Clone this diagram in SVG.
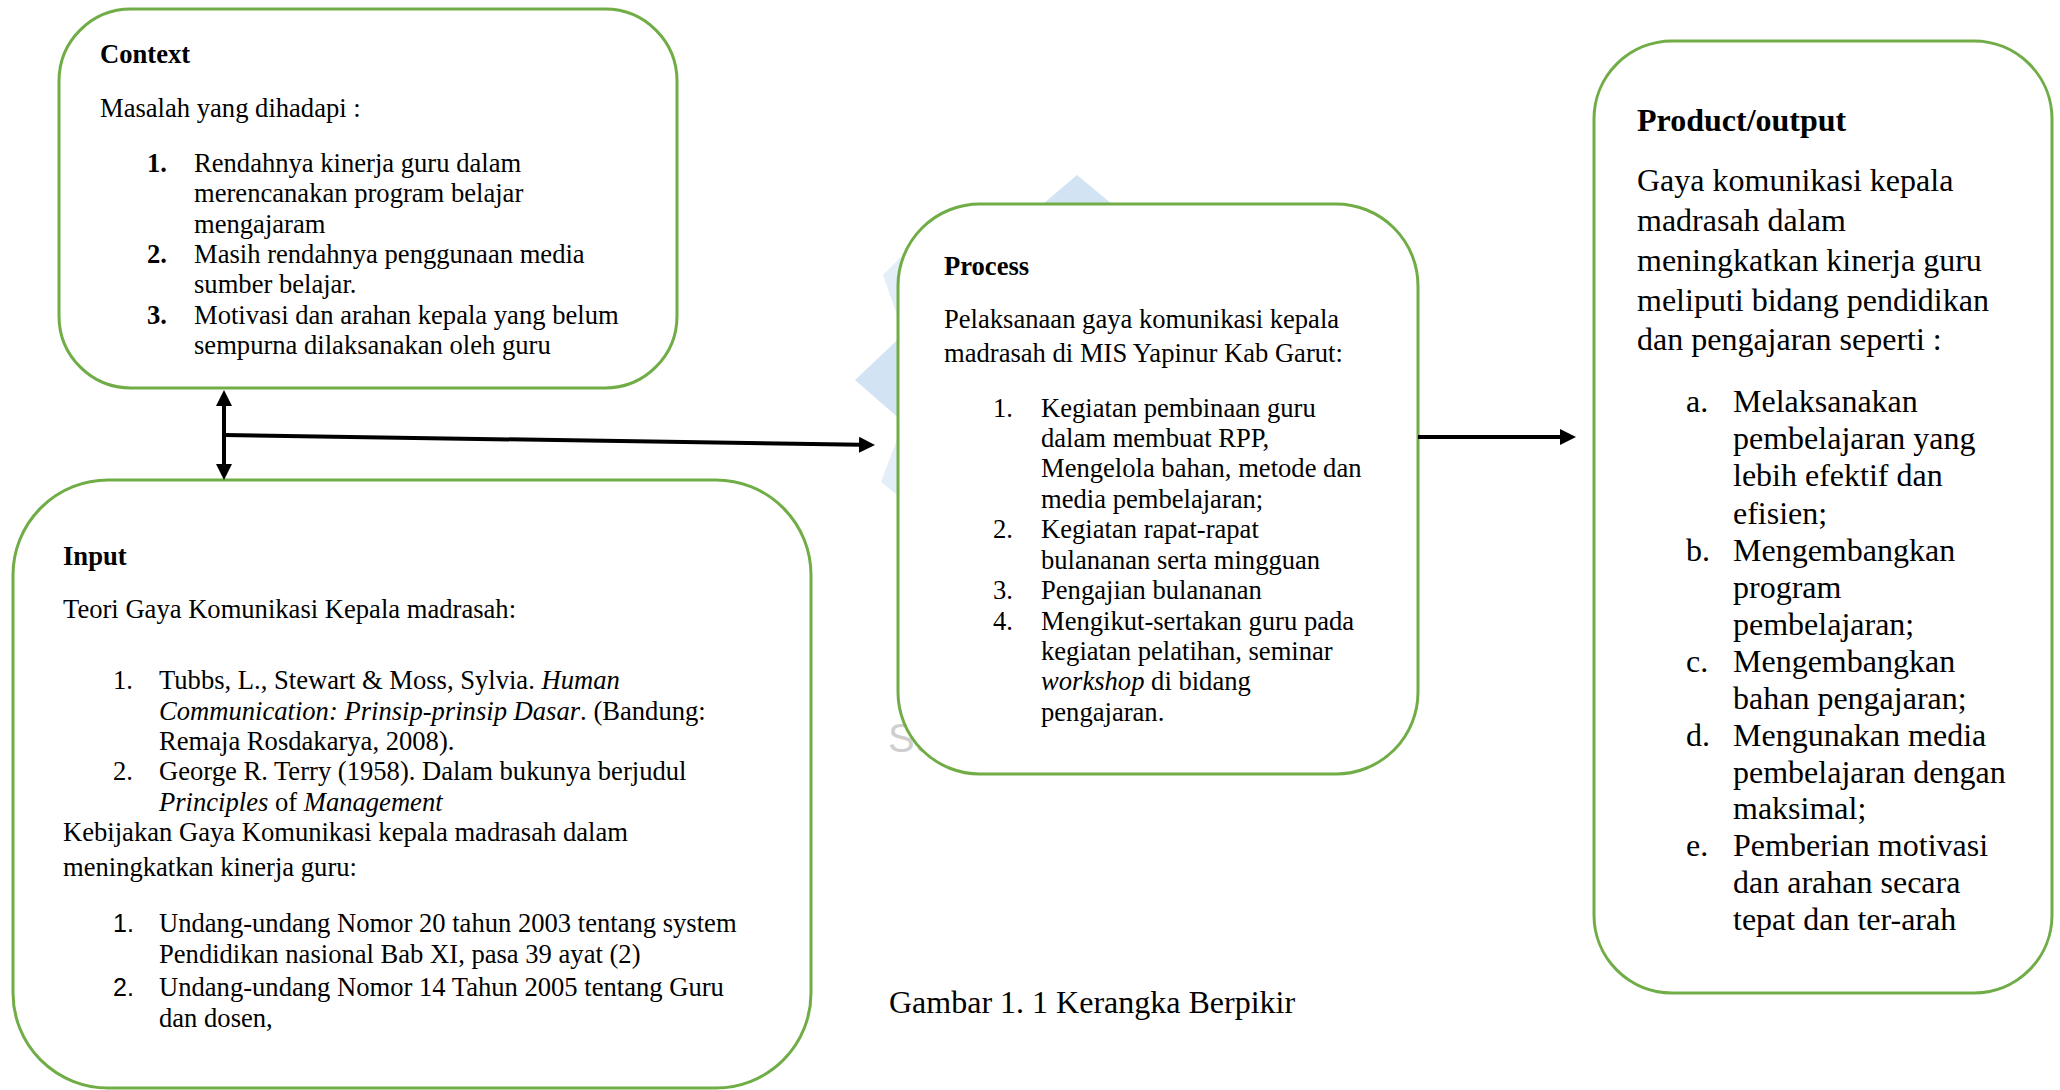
<svg xmlns="http://www.w3.org/2000/svg" width="2060" height="1090" viewBox="0 0 2060 1090">
<style>
.box{fill:#ffffff;stroke:#70ad47;stroke-width:3}
.t{font-family:"Liberation Serif","Times New Roman",serif;font-size:26.6px;fill:#000}
.b{font-weight:bold}
.i{font-style:italic}
.p{font-size:32px}
.n{font-family:"Liberation Sans",Arial,sans-serif;font-size:25px}
.conn{stroke:#000;stroke-width:4;fill:none}
.wm{fill:#d2e4f3}
.wm2{fill:#e3eef8}
</style>
<defs>
<marker id="ah" markerWidth="18" markerHeight="18" refX="2" refY="8" orient="auto-start-reverse" markerUnits="userSpaceOnUse">
<path d="M0,0 L16,8 L0,16 z" fill="#000"/>
</marker>
</defs>
<rect width="2060" height="1090" fill="#ffffff"/>

<g id="watermark">
<polygon class="wm" points="1077,175 1125,215 1030,215"/>
<polygon class="wm" points="855,380 910,328 910,428"/>
<polygon class="wm2" points="883,275 910,248 910,352"/>
<polygon class="wm2" points="881,482 910,405 910,505"/>
<text x="888" y="752" font-family="Liberation Sans,Arial,sans-serif" font-size="40" fill="#cfcfcf">Su</text>
</g>

<g id="context">
<rect class="box" x="59" y="9" width="618" height="379" rx="72" ry="72"/>
<text class="t b" x="100" y="63">Context</text>
<text class="t" x="100" y="117">Masalah yang dihadapi :</text>
<text class="t b" x="147" y="172">1.</text>
<text class="t" x="194" y="172">Rendahnya kinerja guru dalam</text>
<text class="t" x="194" y="202">merencanakan program belajar</text>
<text class="t" x="194" y="233">mengajaram</text>
<text class="t b" x="147" y="263">2.</text>
<text class="t" x="194" y="263">Masih rendahnya penggunaan media</text>
<text class="t" x="194" y="293">sumber belajar.</text>
<text class="t b" x="147" y="324">3.</text>
<text class="t" x="194" y="324">Motivasi dan arahan kepala yang belum</text>
<text class="t" x="194" y="354">sempurna dilaksanakan oleh guru</text>
</g>

<g id="input">
<rect class="box" x="13" y="480" width="798" height="608" rx="95" ry="95"/>
<text class="t b" x="63" y="565">Input</text>
<text class="t" x="63" y="618">Teori Gaya Komunikasi Kepala madrasah:</text>
<text class="t" x="113" y="689">1.</text>
<text class="t" x="159" y="689">Tubbs, L., Stewart &amp; Moss, Sylvia. <tspan class="i">Human</tspan></text>
<text class="t" x="159" y="720"><tspan class="i">Communication: Prinsip-prinsip Dasar</tspan>. (Bandung:</text>
<text class="t" x="159" y="750">Remaja Rosdakarya, 2008).</text>
<text class="t" x="113" y="780">2.</text>
<text class="t" x="159" y="780">George R. Terry (1958). Dalam bukunya berjudul</text>
<text class="t" x="159" y="811"><tspan class="i">Principles</tspan> of <tspan class="i">Management</tspan></text>
<text class="t" x="63" y="841">Kebijakan Gaya Komunikasi kepala madrasah dalam</text>
<text class="t" x="63" y="876">meningkatkan kinerja guru:</text>
<text class="n" x="113" y="932">1.</text>
<text class="t" x="159" y="932">Undang-undang Nomor 20 tahun 2003 tentang system</text>
<text class="t" x="159" y="963">Pendidikan nasional Bab XI, pasa 39 ayat (2)</text>
<text class="n" x="113" y="996">2.</text>
<text class="t" x="159" y="996">Undang-undang Nomor 14 Tahun 2005 tentang Guru</text>
<text class="t" x="159" y="1027">dan dosen,</text>
</g>

<g id="process">
<rect class="box" x="898" y="204" width="520" height="570" rx="82" ry="82"/>
<text class="t b" x="944" y="275">Process</text>
<text class="t" x="944" y="328">Pelaksanaan gaya komunikasi kepala</text>
<text class="t" x="944" y="362">madrasah di MIS Yapinur Kab Garut:</text>
<text class="t" x="993" y="417">1.</text>
<text class="t" x="1041" y="417">Kegiatan pembinaan guru</text>
<text class="t" x="1041" y="447">dalam membuat RPP,</text>
<text class="t" x="1041" y="477">Mengelola bahan, metode dan</text>
<text class="t" x="1041" y="508">media pembelajaran;</text>
<text class="t" x="993" y="538">2.</text>
<text class="t" x="1041" y="538">Kegiatan rapat-rapat</text>
<text class="t" x="1041" y="569">bulananan serta mingguan</text>
<text class="t" x="993" y="599">3.</text>
<text class="t" x="1041" y="599">Pengajian bulananan</text>
<text class="t" x="993" y="630">4.</text>
<text class="t" x="1041" y="630">Mengikut-sertakan guru pada</text>
<text class="t" x="1041" y="660">kegiatan pelatihan, seminar</text>
<text class="t" x="1041" y="690"><tspan class="i">workshop</tspan> di bidang</text>
<text class="t" x="1041" y="721">pengajaran.</text>
</g>

<g id="product">
<rect class="box" x="1594" y="41" width="458" height="952" rx="78" ry="78"/>
<text class="t p b" x="1637" y="131">Product/output</text>
<text class="t p" x="1637" y="191">Gaya komunikasi kepala</text>
<text class="t p" x="1637" y="231">madrasah dalam</text>
<text class="t p" x="1637" y="271">meningkatkan kinerja guru</text>
<text class="t p" x="1637" y="311">meliputi bidang pendidikan</text>
<text class="t p" x="1637" y="350">dan pengajaran seperti :</text>
<text class="t p" x="1686" y="412">a.</text>
<text class="t p" x="1733" y="412">Melaksanakan</text>
<text class="t p" x="1733" y="449">pembelajaran yang</text>
<text class="t p" x="1733" y="486">lebih efektif dan</text>
<text class="t p" x="1733" y="524">efisien;</text>
<text class="t p" x="1686" y="561">b.</text>
<text class="t p" x="1733" y="561">Mengembangkan</text>
<text class="t p" x="1733" y="598">program</text>
<text class="t p" x="1733" y="635">pembelajaran;</text>
<text class="t p" x="1686" y="672">c.</text>
<text class="t p" x="1733" y="672">Mengembangkan</text>
<text class="t p" x="1733" y="709">bahan pengajaran;</text>
<text class="t p" x="1686" y="746">d.</text>
<text class="t p" x="1733" y="746">Mengunakan media</text>
<text class="t p" x="1733" y="783">pembelajaran dengan</text>
<text class="t p" x="1733" y="819">maksimal;</text>
<text class="t p" x="1686" y="856">e.</text>
<text class="t p" x="1733" y="856">Pemberian motivasi</text>
<text class="t p" x="1733" y="893">dan arahan secara</text>
<text class="t p" x="1733" y="930">tepat dan ter-arah</text>
</g>

<g id="caption">
<text class="t p" x="889" y="1013">Gambar 1. 1 Kerangka Berpikir</text>
</g>

<g id="connectors">
<line class="conn" x1="224" y1="404" x2="224" y2="466" marker-start="url(#ah)" marker-end="url(#ah)"/>
<line class="conn" x1="224" y1="435" x2="861" y2="444.8" marker-end="url(#ah)"/>
<line class="conn" x1="1418" y1="437" x2="1562" y2="437" marker-end="url(#ah)"/>
</g>
</svg>
